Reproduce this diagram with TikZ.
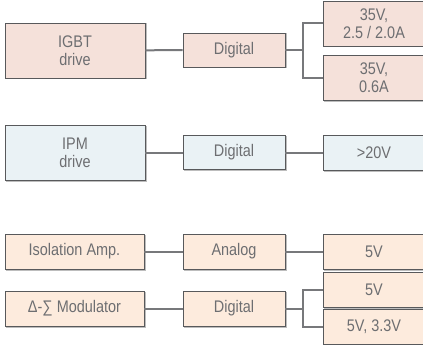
\documentclass[tikz,border=0pt]{standalone}
\usepackage{fontspec}
\setmainfont[FakeStretch=0.86]{Liberation Sans}
\definecolor{pinkfill}{HTML}{F5E1DA}
\definecolor{bluefill}{HTML}{EAF2F5}
\definecolor{orangefill}{HTML}{FDEBDD}
\definecolor{boxline}{HTML}{58595B}
\definecolor{shadowline}{HTML}{BDBDBD}
\definecolor{wire}{HTML}{77787B}
\definecolor{txt}{HTML}{6D6E71}
\begin{document}
\begin{tikzpicture}[x=1pt,y=-1pt,
  blk/.style={draw=boxline, line width=0.9pt, text=txt, inner sep=0pt, align=center,
     font=\fontsize{16.8}{18.3}\selectfont,
     preaction={draw=shadowline, line width=1pt, transform canvas={shift={(1pt,-1pt)}}}},
  pk/.style={blk, fill=pinkfill},
  bl/.style={blk, fill=bluefill},
  orr/.style={blk, fill=orangefill},
  big/.style={minimum width=140pt, minimum height=55pt},
  mid/.style={minimum width=102pt, minimum height=34pt},
  lft/.style={minimum width=139pt, minimum height=35pt},
  rgt/.style={minimum width=102pt, minimum height=45pt},
  rgts/.style={minimum width=102pt, minimum height=35pt},
  wirel/.style={draw=wire, line width=2pt}]
\useasboundingbox (0,0) rectangle (423,345);
\clip (0,0) rectangle (423,345);
% row 1
\node[pk,big] (igbt) at (75,50.5) {IGBT\\drive};
\node[pk,mid] (dig1) at (234,50) {Digital};
\node[pk,rgt] (r1a) at (374,23.5) {35V,\\2.5 / 2.0A};
\node[pk,rgt] (r1b) at (374,77.5) {35V,\\0.6A};
\coordinate (b1) at (303,50);
\draw[wirel] (igbt) -- (dig1);
\draw[wirel] (dig1.east) -- (b1);
\draw[wirel] (r1a.west |- 0,23) -| (303,78) -- (r1b.west |- 0,78);
% row 2
\node[bl,big] (ipm) at (75,152.5) {IPM\\drive};
\node[bl,mid] (dig2) at (234,152.5) {Digital};
\node[bl,rgts] (r2) at (374,152.5) {>20V};
\draw[wirel] (ipm) -- (dig2);
\draw[wirel] (dig2) -- (r2);
% row 3
\node[orr,lft] (iso) at (74.5,251.5) {Isolation Amp.};
\node[orr,mid,minimum height=35pt] (ana) at (234,251.5) {Analog};
\node[orr,rgts] (r3) at (374,251.5) {5V};
\draw[wirel] (iso) -- (ana);
\draw[wirel] (ana) -- (r3);
% row 4
\node[orr,lft] (dsm) at (74.5,308.5) {Δ-∑ Modulator};
\node[orr,mid,minimum height=35pt] (dig4) at (234,308.5) {Digital};
\node[orr,rgts] (r4a) at (374,289.5) {5V};
\node[orr,rgts] (r4b) at (374,326.5) {5V, 3.3V};
\coordinate (b4) at (303,308.5);
\draw[wirel] (dsm) -- (dig4);
\draw[wirel] (dig4.east) -- (b4);
\draw[wirel] (r4a.west |- 0,290) -| (303,327) -- (r4b.west |- 0,327);
\end{tikzpicture}
\end{document}
